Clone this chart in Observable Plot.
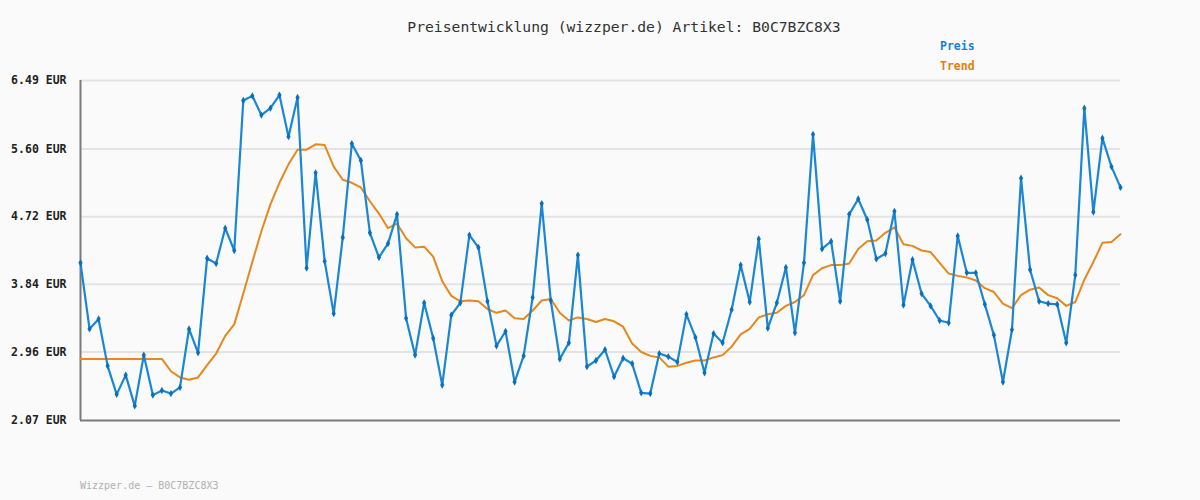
<!DOCTYPE html>
<html>
<head>
<meta charset="utf-8">
<script src="https://cdn.jsdelivr.net/npm/d3@7"></script>
<script src="https://cdn.jsdelivr.net/npm/@observablehq/plot@0.6"></script>
<style>
  html, body { margin: 0; padding: 0; background: #fafafa; }
  #wrap { position: relative; width: 1200px; height: 500px; overflow: hidden; }
  .lbl { position: absolute; font-family: "DejaVu Sans Mono", monospace; white-space: nowrap; line-height: 1; }
  #title { left: 0; width: 1248px; text-align: center; top: 20px; font-size: 14.7px; color: #333; }
  #lg1 { left: 940px; top: 41px; font-size: 11.5px; font-weight: bold; color: #1a7fce; }
  #lg2 { left: 940px; top: 61px; font-size: 11.5px; font-weight: bold; color: #e07f10; }
  #foot { left: 80px; top: 481px; font-size: 10px; color: #b0b0b0; }
  #chart { position: absolute; left: 0; top: 0; }
</style>
</head>
<body>
<div id="wrap">
  <div id="chart"></div>
  <div class="lbl" id="title">Preisentwicklung (wizzper.de) Artikel: B0C7BZC8X3</div>
  <div class="lbl" id="lg1">Preis</div>
  <div class="lbl" id="lg2">Trend</div>
  <div class="lbl" id="foot">Wizzper.de – B0C7BZC8X3</div>
</div>
<script>
const yTicks = [2.07, 2.96, 3.84, 4.72, 5.60, 6.49];

const preis = [
  4.12,3.26,3.39,2.78,2.41,2.66,2.26,2.92,2.40,2.46,
  2.42,2.50,3.26,2.95,4.18,4.11,4.57,4.28,6.23,6.29,
  6.04,6.13,6.30,5.76,6.27,4.05,5.29,4.14,3.46,4.45,
  5.67,5.45,4.51,4.19,4.37,4.75,3.40,2.92,3.60,3.14,
  2.53,3.44,3.60,4.48,4.32,3.62,3.04,3.23,2.57,2.91,
  3.67,4.89,3.63,2.87,3.08,4.22,2.77,2.85,2.99,2.64,
  2.88,2.81,2.43,2.42,2.94,2.90,2.83,3.45,3.15,2.69,
  3.20,3.08,3.51,4.09,3.61,4.43,3.27,3.60,4.06,3.21,
  4.12,5.79,4.30,4.40,3.62,4.75,4.95,4.68,4.17,4.24,
  4.79,3.57,4.16,3.72,3.56,3.37,3.34,4.47,3.99,3.99,
  3.58,3.18,2.57,3.25,5.22,4.03,3.62,3.59,3.58,3.08,
  3.96,6.13,4.78,5.74,5.37,5.10
];

const trend = [
  2.87,2.87,2.87,2.87,2.87,2.87,2.87,2.87,2.87,2.87,
  2.71,2.63,2.60,2.63,2.79,2.94,3.17,3.32,3.72,4.13,
  4.53,4.88,5.16,5.40,5.59,5.59,5.66,5.65,5.37,5.20,
  5.16,5.10,4.92,4.76,4.57,4.63,4.44,4.32,4.33,4.20,
  3.88,3.69,3.62,3.63,3.62,3.52,3.47,3.50,3.40,3.39,
  3.50,3.63,3.65,3.47,3.37,3.41,3.39,3.35,3.39,3.36,
  3.29,3.07,2.96,2.91,2.89,2.77,2.78,2.82,2.85,2.85,
  2.89,2.92,3.03,3.19,3.26,3.41,3.45,3.47,3.56,3.61,
  3.70,3.96,4.05,4.09,4.09,4.11,4.30,4.40,4.41,4.51,
  4.58,4.36,4.34,4.28,4.26,4.12,3.98,3.95,3.93,3.89,
  3.79,3.74,3.59,3.53,3.70,3.77,3.80,3.70,3.66,3.56,
  3.61,3.90,4.13,4.38,4.39,4.49
];

const idx = d3.range(preis.length);

const chart = Plot.plot({
  width: 1200,
  height: 500,
  marginTop: 80,
  marginBottom: 80,
  marginLeft: 80,
  marginRight: 80,
  x: { domain: [0, preis.length - 1], axis: null },
  y: { domain: [yTicks[0], yTicks[yTicks.length - 1]], axis: null },
  style: { background: "#fafafa", fontFamily: "DejaVu Sans Mono", color: "#222" },
  marks: [
    Plot.ruleY(yTicks.slice(1), { stroke: "#e3e3e3", strokeWidth: 2 }),
    Plot.axisY({ ticks: yTicks, tickFormat: d => d.toFixed(2) + " EUR", tickSize: 0, tickPadding: 14, label: null, fontSize: 11.5, fontWeight: "bold", fill: "#222" }),
    Plot.ruleX([0], { stroke: "#7a7a7a", strokeWidth: 2 }),
    Plot.ruleY([yTicks[0]], { stroke: "#7a7a7a", strokeWidth: 2 }),
    Plot.line(idx, { x: i => i, y: i => trend[i], stroke: "#e5881d", strokeWidth: 2 }),
    Plot.line(idx, { x: i => i, y: i => preis[i], stroke: "#1a86d4", strokeWidth: 2.2 }),
    Plot.dot(idx, { x: i => i, y: i => preis[i], symbol: "diamond", r: 2.2, fill: "#0a70bb" })
  ]
});
document.getElementById("chart").appendChild(chart);
</script>
</body>
</html>
